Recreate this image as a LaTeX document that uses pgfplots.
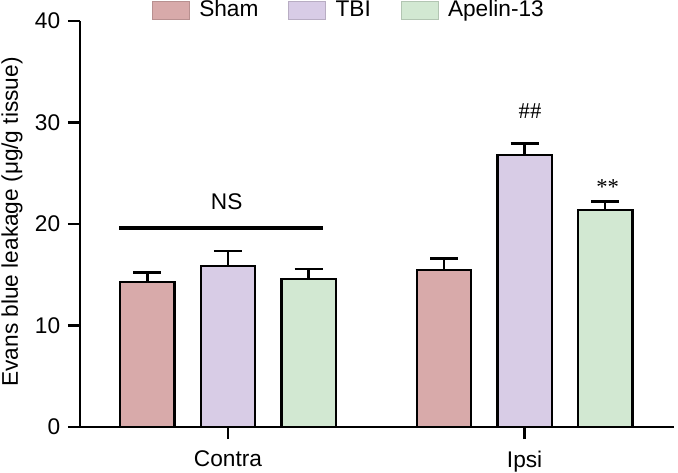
\documentclass[border=0pt]{standalone}
\usepackage{pgfplots}
\pgfplotsset{compat=1.18}
\usepackage{fontspec}
\setmainfont{Liberation Sans}
\newfontfamily\seriffont{Liberation Serif}
\definecolor{shamc}{RGB}{216,170,170}
\definecolor{tbic}{RGB}{216,204,230}
\definecolor{apec}{RGB}{210,232,210}
\begin{document}
\fontsize{17}{20}\selectfont
\begin{tikzpicture}
\begin{axis}[
  name=ax,
  scale only axis,
  width=445.5pt, height=304.5pt,
  xmin=-1.836, xmax=5.533,
  ymin=0, ymax=40,
  axis x line=bottom, axis y line=left,
  axis line style={-, line width=2pt},
  every tick/.style={black, line width=2pt},
  tick align=outside,
  major tick length=9pt,
  xtick={0,3.68}, xticklabels={Contra,Ipsi},
  ytick={0,10,20,30,40},
  /pgf/number format/assume math mode=true,
  tick label style={font=\fontsize{17}{20}\selectfont},
  xticklabel style={yshift=-3pt},
  ylabel={Evans blue leakage (μg/g tissue)},
  ylabel style={at={(axis description cs:-0.1145,0.505)}, anchor=center, font=\fontsize{17}{20}\selectfont},
  clip=false,
  legend columns=3,
  legend style={draw=none, fill=none, at={(rel axis cs:0.121,1.027)}, anchor=west,
    inner sep=0pt, font=\fontsize{17}{20}\selectfont,
    /tikz/every odd column/.append style={column sep=5pt},
    /tikz/every even column/.append style={column sep=20.5pt}},
  legend cell align=left,
]
\addlegendimage{legend image code/.code={\draw[fill=shamc, draw=shamc!85!black, line width=0.6pt] (0pt,-6.75pt) rectangle (27.75pt,6.75pt);}}
\addlegendentry{Sham}
\addlegendimage{legend image code/.code={\draw[fill=tbic, draw=tbic!85!black, line width=0.6pt] (0pt,-6.75pt) rectangle (27.75pt,6.75pt);}}
\addlegendentry{TBI}
\addlegendimage{legend image code/.code={\draw[fill=apec, draw=apec!85!black, line width=0.6pt] (0pt,-6.75pt) rectangle (27.75pt,6.75pt);}}
\addlegendentry{Apelin-13}

\addplot[forget plot, ybar, bar width=0.676, bar shift=0pt, fill=shamc, draw=black, line width=1.8pt,
  error bars/.cd, y dir=plus, y explicit, error bar style={line width=1.8pt},
  error mark options={rotate=90, mark size=10.5pt, line width=1.8pt}]
  coordinates {(-1,14.26) +- (0,0.98) (2.68,15.47) +- (0,1.15)};
\addplot[forget plot, ybar, bar width=0.676, bar shift=0pt, fill=tbic, draw=black, line width=1.8pt,
  error bars/.cd, y dir=plus, y explicit, error bar style={line width=1.8pt},
  error mark options={rotate=90, mark size=10.5pt, line width=1.8pt}]
  coordinates {(0,15.86) +- (0,1.48) (3.68,26.8) +- (0,1.15)};
\addplot[forget plot, ybar, bar width=0.676, bar shift=0pt, fill=apec, draw=black, line width=1.8pt,
  error bars/.cd, y dir=plus, y explicit, error bar style={line width=1.8pt},
  error mark options={rotate=90, mark size=10.5pt, line width=1.8pt}]
  coordinates {(1,14.58) +- (0,0.96) (4.68,21.38) +- (0,0.82)};
% NS line
\addplot[forget plot, black, line width=3pt, no marks] coordinates {(-1.352,19.64) (1.179,19.64)};
\node at (axis cs:-0.016,22.2) {NS};
\node at (axis cs:3.747,31.13) {\seriffont \#\#};
\node at (axis cs:4.71,23.6) {\seriffont **};
\end{axis}
\pgfresetboundingbox
\path ([xshift=-60pt,yshift=-33.75pt]ax.south west) rectangle ([xshift=3pt,yshift=15.75pt]ax.north east);
\end{tikzpicture}
\end{document}
